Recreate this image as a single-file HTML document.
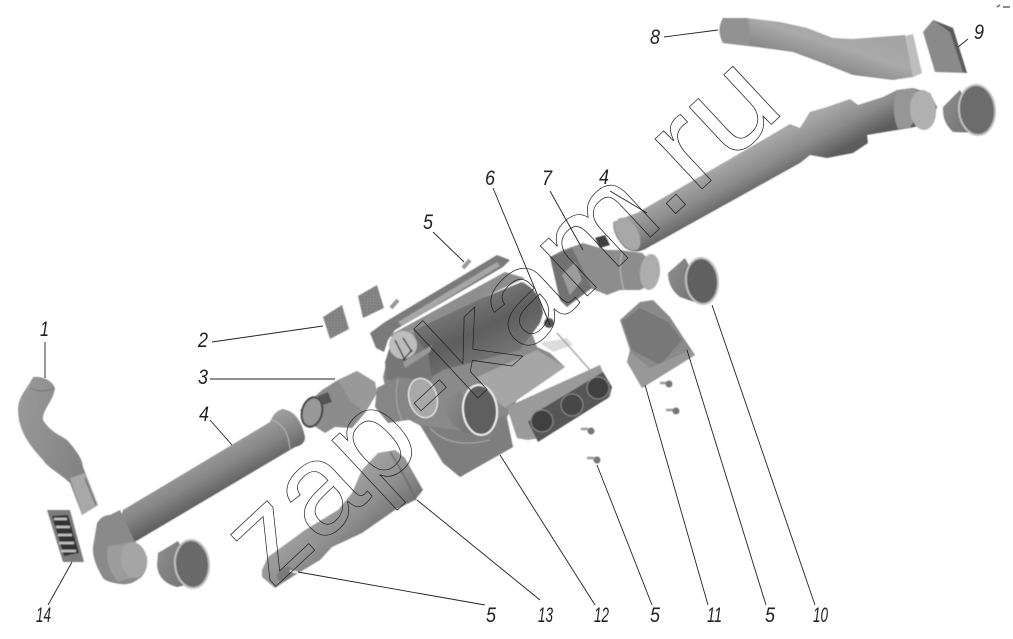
<!DOCTYPE html>
<html><head><meta charset="utf-8"><style>
html,body{margin:0;padding:0;background:#fff;width:1013px;height:639px;overflow:hidden}
svg{display:block}
text.l{font:italic 21px "Liberation Sans",sans-serif;fill:#222}
</style></head><body>
<svg width="1013" height="639" viewBox="0 0 1013 639" xmlns="http://www.w3.org/2000/svg">
<defs>
<filter id="b"><feGaussianBlur stdDeviation="0.5"/></filter>
<linearGradient id="d8" gradientUnits="userSpaceOnUse" x1="830" y1="25" x2="815" y2="72"><stop offset="0" stop-color="#a4a4a4"/><stop offset=".35" stop-color="#aaa"/><stop offset="1" stop-color="#808080"/></linearGradient>
<linearGradient id="t2" x1="0" y1="0" x2="1" y2=".35"><stop offset="0" stop-color="#9a9a9a"/><stop offset=".55" stop-color="#8c8c8c"/><stop offset="1" stop-color="#808080"/></linearGradient>
<linearGradient id="p13" gradientUnits="userSpaceOnUse" x1="325" y1="495" x2="365" y2="540"><stop offset="0" stop-color="#a2a2a2"/><stop offset=".6" stop-color="#8f8f8f"/><stop offset="1" stop-color="#767676"/></linearGradient>
<linearGradient id="tube" gradientUnits="userSpaceOnUse" x1="205" y1="450" x2="228" y2="492"><stop offset="0" stop-color="#a0a0a0"/><stop offset=".5" stop-color="#868686"/><stop offset="1" stop-color="#5a5a5a"/></linearGradient>
<linearGradient id="tube2" gradientUnits="userSpaceOnUse" x1="722" y1="165" x2="742" y2="203"><stop offset="0" stop-color="#a6a6a6"/><stop offset=".5" stop-color="#8a8a8a"/><stop offset="1" stop-color="#5c5c5c"/></linearGradient>
<linearGradient id="cap" x1="0" y1="0" x2="1" y2=".4"><stop offset="0" stop-color="#8e8e8e"/><stop offset="1" stop-color="#707070"/></linearGradient>
<linearGradient id="cyl" gradientUnits="userSpaceOnUse" x1="470" y1="295" x2="500" y2="360"><stop offset="0" stop-color="#7a7a7a"/><stop offset=".5" stop-color="#5e5e5e"/><stop offset="1" stop-color="#767676"/></linearGradient>
<pattern id="n" width="3" height="3" patternUnits="userSpaceOnUse"><rect width="3" height="3" fill="#8a8a8a"/><rect width="1" height="1" fill="#666"/><rect x="2" y="2" width="1" height="1" fill="#666"/></pattern>
</defs>
<g filter="url(#b)">
<!-- duct 1 -->
<path d="M33 377C42 376 52 380 55 388C54 400 42 410 43 420C50 432 62 436 67 440C76 450 82 458 83 467L98 505L82 515L70 483C58 472 48 468 43 460C32 448 18 432 18 410C18 396 28 388 33 377Z" fill="url(#t2)"/>
<path d="M70 478L85 473L98 505L82 515Z" fill="#a8a8a8"/><path d="M85 478L96 505" stroke="#555" fill="none"/>
<path d="M30 388Q42 394 54 388" stroke="#777" fill="none"/>
<!-- vent 14 -->
<path d="M47 510L70 510L84 562L63 562Z" fill="#7c7c7c"/>
<path d="M52 516L68 515L79 553L64 556Z" fill="#333"/>
<path d="M54 519H67M56 527H70M58 535H72M59 543H74M61 551H76" stroke="#c4c4c4" stroke-width="2.5"/>
<!-- tube 4 left -->
<path d="M123 510L270 422Q275 410 283 409Q300 412 305 437Q305 445 295 447L133 543Q125 535 118 525Z" fill="url(#tube)"/>
<path d="M272 420Q288 425 290 449" stroke="#b5b5b5" fill="none"/>
<path d="M97 523Q102 515 110 515L120 510L134 540L147 557Q148 572 140 578Q130 586 120 584Q106 582 103 578Q92 560 93 547Z" fill="#8a8a8a"/>
<path d="M108 546Q104 566 118 582L138 576L128 543Z" fill="#9c9c9c"/>
<ellipse cx="134" cy="560" rx="13" ry="18" transform="rotate(-10 134 560)" fill="#a5a5a5"/>
<!-- cap left -->
<path d="M158 553L178 541L200 582L177 587Q158 582 157 565Z" fill="url(#cap)"/>
<ellipse cx="192" cy="564" rx="17" ry="24" transform="rotate(-5 192 564)" fill="#6a6a6a" stroke="#c0c0c0" stroke-width="2"/>
<!-- part 13 -->
<path d="M262 570L268 557L305 530L338 510L352 493L362 470L378 453L395 450L405 458L423 490L415 500L395 510L362 533L332 547L320 560L292 577L275 588L262 577Z" fill="url(#p13)"/>
<path d="M390 452Q402 470 416 500" stroke="#6c6c6c" stroke-width="1.5" fill="none"/>
<ellipse cx="285" cy="574" rx="9" ry="6" transform="rotate(-35 285 574)" fill="#7a7a7a"/>
<path d="M290 571L300 573" stroke="#eee" stroke-width="2"/>
<!-- filters -->
<path d="M323 317L342 305L349 329L330 339Z" fill="url(#n)"/>
<path d="M358 296L377 285L384 308L363 318Z" fill="url(#n)"/>
<!-- housing lower -->
<path d="M383 377L393 337L520 300L537 347L550 353L565 367L517 400L507 417L513 447L460 477L443 463L423 427L390 410Z" fill="#8a8a8a"/>
<path d="M477 377L537 350L565 367L517 400L505 408L490 395Z" fill="#a6a6a6"/>
<path d="M420 425L470 432L505 415L513 447L460 477L443 463Z" fill="#7e7e7e"/>
<path d="M430 428Q450 450 490 440" stroke="#aaa" fill="none"/>
<!-- cylinder -->
<path d="M412 326L522 282Q540 290 543 313L540 323L520 350L443 370L430 378Q418 352 412 326Z" fill="url(#cyl)"/>
<!-- flap band + panel -->
<path d="M390 335L505 272L525 278L410 332L397 345Z" fill="#8e8e8e"/>
<path d="M370 333L385 322L497 255L510 260L503 267L395 330L388 340L384 352L376 348Z" fill="#7a7a7a"/>
<path d="M398 322L497 262L500 266L402 326Z" fill="#a6a6a6"/>
<!-- left box & disk -->
<path d="M385 362L392 340L412 335L428 352L432 380L386 380Z" fill="#777"/>
<ellipse cx="403" cy="345" rx="14" ry="14" fill="#bdbdbd"/>
<path d="M395 340L406 362M403 338L412 352M412 350L403 360" stroke="#2f2f2f" stroke-width="1.3"/>
<path d="M403 362L432 345L430 352L405 368Z" fill="#999"/>
<path d="M540 343L567 338L573 345L553 352Z" fill="#dcdcdc"/>
<path d="M557 333L590 370" stroke="#999" stroke-width="1.3"/>
<circle cx="549" cy="323" r="5" fill="#555"/>
<!-- panel -->
<path d="M507 407L600 365L602 370L612 387L610 397L540 438L528 440L517 438L512 423Z" fill="#9a9a9a"/>
<path d="M528 422L540 410L603 372L612 387L608 398L538 442Z" fill="#565656"/>
<g stroke="#8c8c8c"><circle cx="542" cy="421" r="11" fill="#404040"/><circle cx="572" cy="405" r="11" fill="#464646"/><circle cx="598" cy="388" r="11" fill="#404040"/></g>
<!-- tube 3 -->
<path d="M300 410L322 390L338 380L357 371L375 382L377 393L365 413L352 428L335 427L325 433L305 420Z" fill="#8c8c8c"/>
<path d="M338 380L357 371L375 382L377 393L365 413L350 400Z" fill="#999"/>
<ellipse cx="312" cy="412" rx="10" ry="15" transform="rotate(15 312 412)" fill="#999" stroke="#444" stroke-width="2"/>
<path d="M318 396L328 392L332 402L323 405Z" fill="#555"/>
<!-- short tube -->
<path d="M377 388L398 377L422 380L437 397L428 417L408 420L388 423L375 407Z" fill="#868686"/>
<ellipse cx="423" cy="398" rx="14" ry="20" transform="rotate(-15 423 398)" fill="#a8a8a8" stroke="#eee" stroke-width="1.2"/>
<path d="M398 379Q393 400 402 421" stroke="#aaa" fill="none"/>
<!-- cap mid -->
<path d="M443 403L460 390L484 436L467 433Q446 425 443 403Z" fill="url(#cap)"/>
<ellipse cx="480" cy="410" rx="17" ry="25" transform="rotate(-5 480 410)" fill="#5e5e5e" stroke="#eee" stroke-width="2"/>
<!-- unit 7 -->
<path d="M550 257L563 250L583 243L607 250L620 250L642 253L655 265L658 280L640 290L620 290L607 295L590 288L567 307L560 300Z" fill="#8d8d8d"/>
<path d="M550 257L572 248L592 288L567 307L560 300Z" fill="#727272"/>
<path d="M562 275L575 262L582 280L570 295Z" fill="#9c9c9c"/>
<ellipse cx="650" cy="272" rx="10" ry="18" transform="rotate(5 650 272)" fill="#adadad"/>
<path d="M622 252Q618 270 624 290" stroke="#bbb" fill="none"/>
<path d="M595 238L605 235L610 245L600 248Z" fill="#3f3f3f"/>
<!-- tube 4 right -->
<path d="M623 218L637 213L780 130L790 124L800 128L810 112L827 107L850 99L858 105L883 97L897 90L913 88L930 93L937 107L932 123L910 128L897 130L867 135L868 143L853 153L827 158L810 155L800 163L647 248Q636 255 625 248Q612 235 613 222Z" fill="url(#tube2)"/>
<path d="M897 90Q890 110 898 129L910 128L925 100L913 88Z" fill="#969696"/>
<ellipse cx="923" cy="110" rx="13" ry="20" transform="rotate(-5 923 110)" fill="#b0b0b0"/>
<ellipse cx="628" cy="234" rx="10" ry="18" transform="rotate(-30 628 234)" fill="#a8a8a8"/>
<!-- cap right -->
<path d="M943 107L960 90L982 133L953 132Q942 122 943 107Z" fill="url(#cap)"/>
<ellipse cx="977" cy="110" rx="18" ry="25" transform="rotate(-5 977 110)" fill="#6c6c6c" stroke="#c0c0c0" stroke-width="2"/>
<!-- cap 10 -->
<path d="M668 273L685 258L708 302L697 303L680 297Q668 288 668 273Z" fill="url(#cap)"/>
<ellipse cx="702" cy="281" rx="16" ry="23" transform="rotate(-5 702 281)" fill="#606060" stroke="#c0c0c0" stroke-width="2"/>
<!-- part 11 -->
<path d="M620 320L640 302L653 300L670 317L683 337L695 355L642 388L627 362L630 350Z" fill="#8a8a8a"/>
<path d="M622 322L640 308L668 322L682 340L660 365L632 350Z" fill="#787878"/>
<path d="M630 352L650 368L690 350L695 355L642 388L627 362Z" fill="#989898"/>
<!-- duct 8 -->
<path d="M723 18L747 18L780 22L807 28L833 38L853 39L905 35L922 73L913 77L893 80L853 75L820 62L793 52L757 47L723 43Q716 30 723 18Z" fill="url(#d8)"/>
<path d="M905 36L913 34L922 73L913 77Z" fill="#bdbdbd"/>
<path d="M723 18L747 18Q752 30 748 46L723 43Q716 30 723 18Z" fill="#929292"/>
<!-- duct 9 -->
<path d="M923 32L933 20L953 28L967 73L935 72Z" fill="#8a8a8a"/>
<path d="M933 20L953 28L967 73L963 72L950 32Z" fill="#5a5a5a"/>
<!-- bolts -->
<g fill="#999" stroke="#999">
<path d="M463 268L470 260" stroke-width="4"/><path d="M391 308L398 300" stroke-width="4"/>
<path d="M660 383H667" stroke-width="2.5"/><path d="M666 410H673" stroke-width="2.5"/><path d="M581 429H588" stroke-width="2.5"/><path d="M587 458H594" stroke-width="2.5"/></g>
<g fill="#777"><circle cx="669" cy="384" r="3.5"/><circle cx="676" cy="411" r="3.5"/><circle cx="591" cy="431" r="3.5"/><circle cx="597" cy="460" r="3.5"/></g>
</g>
<!-- watermark -->
<g transform="translate(272 590) rotate(-43)" font-family="Liberation Sans, sans-serif" font-size="130" fill="none" stroke="#222" stroke-width="0.7">
<text x="0" y="0">zap</text>
<text x="225" y="0" textLength="479" lengthAdjust="spacingAndGlyphs">-kam.ru</text>
</g>
<!-- leaders -->
<g stroke="#222" stroke-width="0.9" fill="none">
<path d="M45 342L45 378M212 342L323 326M210 379L335 379M210 420L232 445M433 232L464 262M493 188L550 325M550 191L583 250M610 191L647 213M664 37L718 30M958 47L968 39M815 605L712 305M766 605L687 350M708 605L645 385M652 605L597 465M595 605L500 455M540 600L417 500M485 605L298 572M48 605L72 562"/>
</g>
<!-- labels -->
<g>
<text class="l" x="40" y="336" textLength="9" lengthAdjust="spacingAndGlyphs">1</text><text class="l" x="198" y="347" textLength="10" lengthAdjust="spacingAndGlyphs">2</text><text class="l" x="198" y="384" textLength="10" lengthAdjust="spacingAndGlyphs">3</text><text class="l" x="199" y="421" textLength="10" lengthAdjust="spacingAndGlyphs">4</text>
<text class="l" x="423" y="229" textLength="10" lengthAdjust="spacingAndGlyphs">5</text><text class="l" x="485" y="185" textLength="10" lengthAdjust="spacingAndGlyphs">6</text><text class="l" x="542" y="185" textLength="10" lengthAdjust="spacingAndGlyphs">7</text><text class="l" x="599" y="184" textLength="10" lengthAdjust="spacingAndGlyphs">4</text>
<text class="l" x="650" y="44" textLength="10" lengthAdjust="spacingAndGlyphs">8</text><text class="l" x="974" y="39" textLength="10" lengthAdjust="spacingAndGlyphs">9</text>
<text class="l" x="486" y="622" textLength="10" lengthAdjust="spacingAndGlyphs">5</text><text class="l" x="650" y="622" textLength="10" lengthAdjust="spacingAndGlyphs">5</text><text class="l" x="765" y="622" textLength="10" lengthAdjust="spacingAndGlyphs">5</text>
<text class="l" x="538" y="622" textLength="15" lengthAdjust="spacingAndGlyphs">13</text><text class="l" x="594" y="622" textLength="15" lengthAdjust="spacingAndGlyphs">12</text><text class="l" x="707" y="622" textLength="15" lengthAdjust="spacingAndGlyphs">11</text><text class="l" x="813" y="622" textLength="15" lengthAdjust="spacingAndGlyphs">10</text><text class="l" x="36" y="622" textLength="15" lengthAdjust="spacingAndGlyphs">14</text>
</g>
<!-- tiny mark -->
<path d="M997 7L1000 5M1003 7H1010" stroke="#666" stroke-width="1.5"/>
</svg>
</body></html>
